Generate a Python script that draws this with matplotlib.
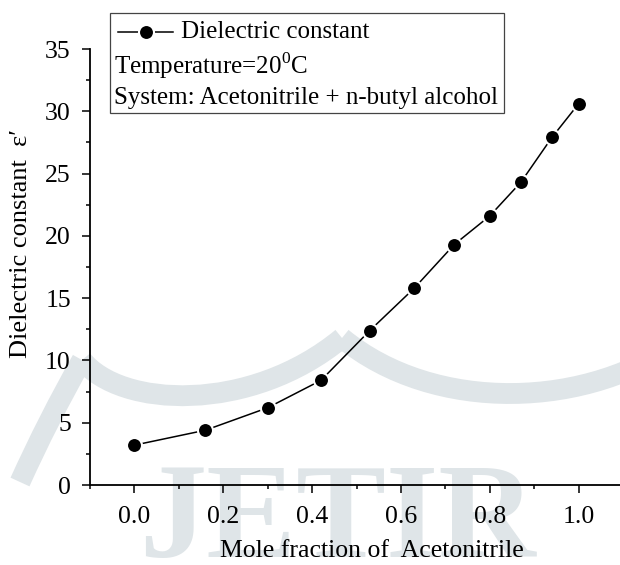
import numpy as np
import matplotlib
matplotlib.use("Agg")
import matplotlib.pyplot as plt
from matplotlib.path import Path
from matplotlib.patches import PathPatch, Rectangle
from matplotlib.lines import Line2D
from matplotlib.ticker import MultipleLocator

# data
mole_fraction = [0.0, 0.16, 0.30, 0.42, 0.53, 0.63, 0.72, 0.80, 0.87, 0.94, 1.0]
dielectric = [3.2, 4.4, 6.2, 8.4, 12.4, 15.8, 19.3, 21.6, 24.3, 27.9, 30.6]
xticks = [0.0, 0.2, 0.4, 0.6, 0.8, 1.0]
yticks = [0, 5, 10, 15, 20, 25, 30, 35]

W, H = 620, 565
plt.rcParams['font.family'] = ['Liberation Serif', 'DejaVu Serif']
plt.rcParams['mathtext.fontset'] = 'custom'
plt.rcParams['mathtext.rm'] = 'Liberation Serif'


def fx(px):
    return px / W


def fy(py):
    return 1 - py / H


fig = plt.figure(figsize=(6.2, 5.65), dpi=100)
ax = fig.add_axes([fx(90), fy(485), 533 / W, (485 - 49) / H])
ax.set_facecolor('none')

# watermark (background decoration)
wm = '#dfe5e8'
pts = [(20, 482), (48, 420), (82, 360),
       (82, 360), (120, 408), (250, 414), (342, 338),
       (342, 338), (434, 414), (590, 410), (684, 338)]
codes = [Path.MOVETO, Path.CURVE3, Path.CURVE3,
         Path.MOVETO, Path.CURVE4, Path.CURVE4, Path.CURVE4,
         Path.MOVETO, Path.CURVE4, Path.CURVE4, Path.CURVE4]
path = Path([(fx(a), fy(b)) for a, b in pts], codes)
fig.patches.append(PathPatch(path, transform=fig.transFigure, fill=False,
                             edgecolor=wm, lw=15, capstyle='butt', zorder=-2))
fig.text(fx(337), fy(557), 'JETIR', color=wm, fontsize=97, fontweight='bold',
         ha='center', va='baseline', zorder=-1)

# line stops short of the markers, like the original
mk = dict(marker='o', markersize=10.8, markerfacecolor='black',
          markeredgecolor='white', markeredgewidth=1.5)
ax.plot(mole_fraction, dielectric, color='black', lw=1.1, zorder=3, **mk)

ax.set_xlim(-0.1, 1.1)
ax.set_ylim(0, 35)
ax.set_xticks(xticks)
ax.set_xticklabels([f"{t:.1f}" for t in xticks])
ax.set_yticks(yticks)
ax.xaxis.set_minor_locator(MultipleLocator(0.1))
ax.yaxis.set_minor_locator(MultipleLocator(2.5))
ax.tick_params(which='major', direction='out', length=5.8, width=1.1,
               labelsize=18.5)
ax.tick_params(axis='x', which='major', pad=9.5)
ax.tick_params(axis='y', which='major', pad=8)
ax.tick_params(which='minor', direction='out', length=3.2, width=1.1)
for s in ['top', 'right']:
    ax.spines[s].set_visible(False)
for s in ['left', 'bottom']:
    ax.spines[s].set_linewidth(1.3)

ax.set_xlabel('Mole fraction of  Acetonitrile', fontsize=18.5)
ax.xaxis.set_label_coords((372 - 90) / 533, (485 - 551) / 436)
ax.xaxis.label.set_va('center')
ax.set_ylabel('Dielectric constant  ε′', fontsize=19)
ax.yaxis.set_label_coords((21 - 90) / 533, (485 - 244) / 436)
ax.yaxis.label.set_va('center')

# legend box drawn by hand
fig.patches.append(Rectangle((fx(110), fy(113)), (504 - 110) / W, 100 / H,
                             transform=fig.transFigure, fill=False,
                             edgecolor='#444444', lw=0.9, zorder=4))
fig.lines.append(Line2D([fx(118), fx(173)], [fy(32), fy(32)],
                        transform=fig.transFigure, color='black', lw=1.1,
                        zorder=5))
fig.lines.append(Line2D([fx(145.5)], [fy(32)], transform=fig.transFigure,
                        color='black', zorder=5, **mk))
fig.text(fx(181), fy(32), 'Dielectric constant', fontsize=18, va='center')
fig.text(fx(114), fy(66), 'Temperature=20$^\\mathregular{0}$C', fontsize=18,
         va='center')
fig.text(fx(114), fy(98), 'System: Acetonitrile + n-butyl alcohol',
         fontsize=18, va='center')

fig.savefig('out.png', dpi=100)
